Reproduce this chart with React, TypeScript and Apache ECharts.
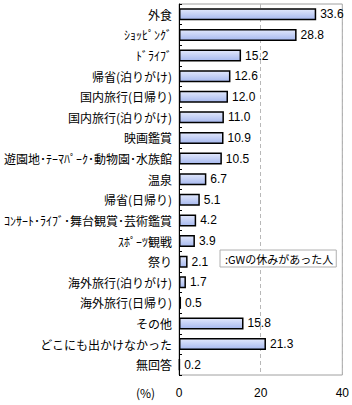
import React, { useEffect, useRef } from "react";
import * as echarts from "echarts";

const categories = [
  "外食",
  "ｼｮｯﾋﾟﾝｸﾞ",
  "ﾄﾞﾗｲﾌﾞ",
  "帰省(泊りがけ)",
  "国内旅行(日帰り)",
  "国内旅行(泊りがけ)",
  "映画鑑賞",
  "遊園地･ﾃｰﾏﾊﾟｰｸ･動物園･水族館",
  "温泉",
  "帰省(日帰り)",
  "ｺﾝｻｰﾄ･ﾗｲﾌﾞ･舞台観賞･芸術鑑賞",
  "ｽﾎﾟｰﾂ観戦",
  "祭り",
  "海外旅行(泊りがけ)",
  "海外旅行(日帰り)",
  "その他",
  "どこにも出かけなかった",
  "無回答",
];
const values = [33.6, 28.8, 15.2, 12.6, 12.0, 11.0, 10.9, 10.5, 6.7, 5.1, 4.2, 3.9, 2.1, 1.7, 0.5, 15.8, 21.3, 0.2];
const seriesName = "GWの休みがあった人";
const xTicks = { min: 0, max: 40, interval: 20 };
const unitLabel = "(%)";

export default function App() {
  const ref = useRef<HTMLDivElement>(null);
  useEffect(() => {
    if (!ref.current) return;
    const chart = echarts.init(ref.current, null, { renderer: "svg" });
    chart.setOption({
      animation: false,
      backgroundColor: "#ffffff",
      grid: {
        left: 179,
        top: 4,
        right: 8,
        bottom: 30,
        show: true,
        borderColor: "#a0a0a0",
        borderWidth: 1,
        backgroundColor: "transparent",
      },
      legend: {
        left: 220,
        top: 250,
        data: [{ name: seriesName, icon: "none" }],
        itemWidth: 0,
        itemHeight: 0,
        itemGap: 0,
        formatter: (n: string) => ":" + n,
        backgroundColor: "#ffffff",
        borderColor: "#b0b0b0",
        borderWidth: 1,
        padding: [3, 3, 3, 0],
        textStyle: { fontFamily: "Noto Sans CJK JP", fontSize: 11, color: "#000" },
      },
      xAxis: {
        type: "value",
        min: xTicks.min,
        max: xTicks.max,
        interval: xTicks.interval,
        axisLine: { show: false },
        axisTick: { show: false },
        axisLabel: { margin: 12, color: "#000", fontFamily: "Liberation Sans", fontSize: 12 },
        splitLine: { show: true, lineStyle: { color: "#b8b8b8", type: [4, 3], width: 1 } },
      },
      yAxis: {
        type: "category",
        data: categories,
        inverse: true,
        axisLine: { show: true, lineStyle: { color: "#000", width: 1 } },
        axisTick: { show: true, inside: true, length: 3, lineStyle: { color: "#000" } },
        axisLabel: { margin: 7, color: "#000", fontFamily: "Noto Sans CJK JP", fontSize: 12 },
      },
      graphic: [
        {
          type: "text",
          left: 136,
          top: 386,
          style: { text: unitLabel, fontFamily: "Noto Sans CJK JP", fontSize: 12, fill: "#000" },
        },
      ],
      series: [
        {
          name: seriesName,
          type: "bar",
          data: values,
          barWidth: 12,
          itemStyle: {
            color: new echarts.graphic.LinearGradient(0, 0, 0, 1, [
              { offset: 0, color: "#e2e8fc" },
              { offset: 1, color: "#a6b8ee" },
            ]),
            borderColor: "#000",
            borderWidth: 1.5,
          },
          label: {
            show: true,
            position: "right",
            distance: 4,
            color: "#000",
            fontFamily: "Liberation Sans",
            fontSize: 12,
            formatter: (p: any) => Number(p.value).toFixed(1),
          },
        },
      ],
    });
    return () => chart.dispose();
  }, []);
  return <div ref={ref} style={{ position: "absolute", left: 0, top: 0, width: 352, height: 405 }} />;
}
